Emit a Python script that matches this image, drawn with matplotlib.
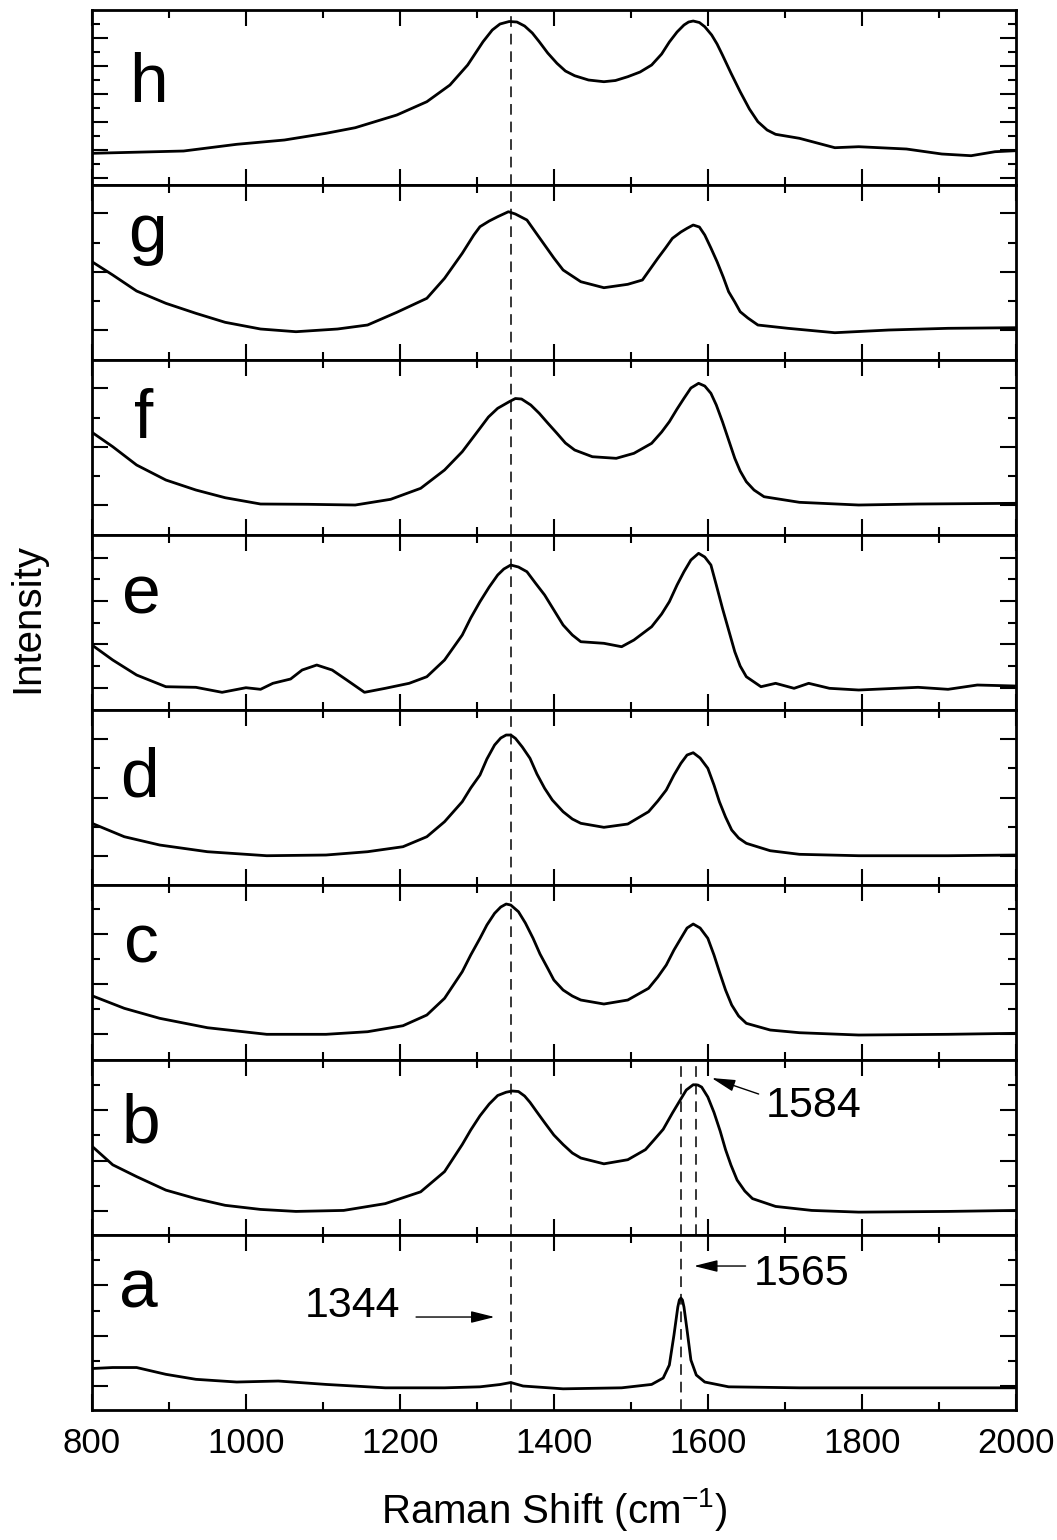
import matplotlib
matplotlib.use('Agg')
import matplotlib.pyplot as plt
from matplotlib.ticker import MultipleLocator, FixedLocator

plt.rcParams['font.family'] = ['Liberation Sans', 'DejaVu Sans']
plt.rcParams['mathtext.default'] = 'regular'

# spectra (intensity in arbitrary units, panel height = 175)
x_h = [800, 919, 988, 1050, 1104, 1142, 1196, 1235, 1265, 1288, 1308, 1320, 1330, 1342, 1352,
       1362, 1372, 1381, 1392, 1404, 1415, 1427, 1445, 1465, 1480, 1496, 1512, 1527, 1540, 1550,
       1560, 1569, 1575, 1581, 1589, 1596, 1605, 1612, 1619, 1630, 1642, 1654, 1665, 1677, 1688,
       1719, 1765, 1796, 1858, 1904, 1942, 1973, 2000]
y_h = [31.7, 34, 40.7, 45, 51.7, 57.3, 70, 83.3, 100, 120, 143.3, 155, 161, 163.5, 163,
       159, 152, 143.3, 132, 121.7, 114, 109.3, 105, 103.3, 104.5, 108.3, 113, 120, 131, 143,
       153, 160, 163, 164, 162.5, 158.3, 150, 141, 130, 112, 93.3, 76, 63.3, 55, 50.7,
       46.7, 37.3, 38.3, 36, 31, 29.3, 33.3, 34.3]

x_g = [800, 827, 858, 896, 935, 973, 1019, 1065, 1119, 1158, 1196, 1235, 1258, 1281, 1296,
       1304, 1316, 1327, 1341, 1350, 1365, 1376, 1388, 1400, 1412, 1435, 1465, 1496, 1515, 1535,
       1545, 1554, 1565, 1573, 1581, 1589, 1596, 1604, 1612, 1620, 1627, 1635, 1642, 1652, 1665,
       1704, 1765, 1835, 1912, 2000]
y_g = [98.3, 85, 69, 56.7, 46.7, 37.7, 31, 28.3, 31, 35, 47.7, 61.7, 81.7, 106.7, 125,
       133.3, 139, 143.3, 148.3, 146, 140, 128, 115, 102, 90, 78.3, 72.3, 75.7, 80, 101.7,
       112, 121.7, 128, 131.7, 135, 133, 125, 112, 98.3, 83, 68.3, 58, 48.3, 42, 35,
       31.7, 27.3, 30, 31.7, 32.3]

x_f = [800, 827, 858, 896, 935, 973, 1019, 1081, 1142, 1188, 1227, 1258, 1281, 1304, 1315,
       1327, 1342, 1350, 1358, 1370, 1381, 1392, 1404, 1415, 1427, 1450, 1481, 1504, 1527, 1540,
       1550, 1560, 1569, 1578, 1588, 1596, 1604, 1611, 1619, 1627, 1635, 1642, 1650, 1660, 1673,
       1719, 1796, 1873, 2000]
y_f = [102.7, 88.3, 70, 55, 45, 37.3, 31, 30.7, 30, 35.7, 46.7, 65, 83.3, 106.7, 118,
       126.7, 133.3, 136.5, 136, 130, 121.7, 112, 101.7, 92, 85, 78.3, 76.7, 81.7, 91.7, 103,
       113.3, 126, 136.7, 147, 151.7, 149, 141.7, 130, 113.3, 95, 76.7, 64, 53.3, 45, 38.3,
       32.7, 30, 31, 31.7]

x_e = [800, 827, 858, 896, 935, 969, 1000, 1019, 1035, 1058, 1073, 1092, 1112, 1131, 1154,
       1181, 1212, 1235, 1258, 1281, 1292, 1304, 1316, 1327, 1335, 1344, 1354, 1365, 1376, 1388,
       1400, 1412, 1424, 1435, 1465, 1488, 1504, 1527, 1540, 1550, 1560, 1569, 1578, 1588, 1596,
       1604, 1611, 1619, 1627, 1635, 1642, 1650, 1669, 1688, 1712, 1731, 1758, 1796, 1873, 1912,
       1950, 2000]
y_e = [65, 50, 35, 23.3, 22.7, 17.7, 22.3, 20.7, 26.7, 31, 40, 45, 40, 30, 17.7,
       21.7, 26.7, 33.3, 50, 75, 92, 108.3, 123, 135, 141, 145, 143, 138.3, 127, 115,
       100, 85, 75, 68.3, 66.7, 63.3, 70, 83.3, 96, 108.3, 125, 138.3, 150, 156.7, 153,
       145, 125, 101.7, 80, 58.3, 44, 33.3, 23.3, 26.7, 21.7, 26.7, 21.7, 20, 22.7, 20.7,
       25, 24]

x_d = [800, 842, 888, 950, 1027, 1104, 1158, 1204, 1235, 1258, 1281, 1292, 1304, 1313, 1323,
       1331, 1338, 1344, 1350, 1359, 1369, 1378, 1388, 1398, 1412, 1424, 1435, 1465, 1496, 1523,
       1535, 1546, 1556, 1565, 1573, 1581, 1590, 1600, 1608, 1615, 1623, 1631, 1640, 1650, 1681,
       1719, 1796, 1912, 2000]
y_d = [61.7, 48.3, 40, 33.3, 29.3, 30, 33.3, 38.3, 48.3, 63.3, 83.3, 97, 110, 126, 140,
       147, 150, 150, 146.7, 138, 126.7, 111, 96.7, 85, 73.3, 66, 61.7, 57.7, 61, 73.3,
       84, 95, 110, 121.7, 130, 132.3, 127, 116.7, 100, 83.3, 68, 55, 47, 41.7, 34.3,
       30.7, 29.3, 29.3, 30]

x_c = [800, 842, 888, 950, 1027, 1104, 1158, 1204, 1235, 1258, 1281, 1292, 1304, 1313, 1323,
       1331, 1338, 1344, 1354, 1363, 1373, 1382, 1392, 1400, 1412, 1424, 1435, 1465, 1496, 1523,
       1535, 1546, 1556, 1565, 1573, 1581, 1590, 1600, 1608, 1615, 1623, 1631, 1640, 1650, 1681,
       1719, 1796, 1912, 2000]
y_c = [64.3, 51.7, 41.7, 32.3, 25.7, 25.7, 28.3, 34.3, 45, 61.7, 88.3, 105, 121.7, 135, 146.7,
       153, 156, 155, 148.3, 137, 121.7, 106, 91.7, 80, 70, 64, 60, 56, 60, 71.7,
       83, 95, 110, 121.7, 132, 136, 132, 121.7, 105, 88.3, 70, 55, 44, 36.7, 30,
       27.3, 25, 25.7, 26.7]

x_b = [800, 827, 858, 896, 935, 973, 1019, 1065, 1127, 1181, 1227, 1258, 1281, 1292, 1304,
       1316, 1327, 1338, 1346, 1354, 1362, 1369, 1378, 1388, 1400, 1412, 1424, 1435, 1465, 1496,
       1519, 1530, 1542, 1554, 1565, 1572, 1581, 1587, 1592, 1600, 1608, 1616, 1623, 1630, 1638,
       1648, 1658, 1688, 1735, 1796, 1912, 2000]
y_b = [88.8, 70.2, 58.4, 44.9, 36.4, 29.7, 25.6, 23.6, 24.6, 31.4, 43.2, 63.4, 90.5, 105, 119.2,
       131, 139.5, 142.8, 144, 143.5, 139, 132.7, 123, 112.4, 100, 90.5, 82, 77, 71.2, 75.3,
       85.4, 95, 105.7, 122, 136.1, 145, 150.3, 150, 147.9, 138, 122.6, 104, 85.4, 70, 55,
       44, 36.4, 28.6, 24.6, 22.9, 23.6, 24.6]

x_a = [800, 827, 858, 896, 935, 988, 1042, 1104, 1181, 1258, 1304, 1330, 1344, 1360, 1412,
       1488, 1527, 1542, 1550, 1556, 1561, 1563, 1565, 1567, 1569, 1573, 1578, 1585, 1596, 1627,
       1719, 1873, 2000]
y_a = [41.5, 42.5, 42.5, 35.7, 30.7, 28, 29, 25.6, 22.2, 22.2, 23.2, 25.5, 27.5, 24, 21.2,
       22.2, 25.6, 32, 45, 75, 103, 110, 112, 110, 103, 80, 50, 35, 28, 23.2,
       22.2, 22.2, 22.2]

labels = ['h', 'g', 'f', 'e', 'd', 'c', 'b', 'a']
xs = [x_h, x_g, x_f, x_e, x_d, x_c, x_b, x_a]
ys = [y_h, y_g, y_f, y_e, y_d, y_c, y_b, y_a]

d_band = 1344
g_band_a = 1565
g_band_b = 1584

# layout of panel letters (axes fraction) and y ticks (major, minor)
letter_pos = [(0.040, 0.474), (0.039, 0.617), (0.045, 0.554), (0.033, 0.549),
              (0.031, 0.503), (0.035, 0.56), (0.032, 0.526), (0.029, 0.583)]
yticks = [([7, 35, 63, 91, 119, 147], [21, 49, 77, 105, 133, 161]),
          ([30, 88, 147], [59, 117]),
          ([30, 88, 147], [59, 117]),
          ([22, 66, 109, 152], [44, 87, 131]),
          ([29, 87, 146], [58, 117]),
          ([26, 76, 126], [51, 101, 151]),
          ([24, 74, 125], [49, 100, 150]),
          ([24, 74, 125], [49, 99, 150])]

fig = plt.figure(figsize=(10.57, 15.40), dpi=100)
axes = fig.subplots(8, 1, sharex=True, gridspec_kw=dict(hspace=0))
fig.subplots_adjust(left=0.087, right=0.961, top=0.9935, bottom=0.0844)

dash = (0, (7, 4.5))
for i, ax in enumerate(axes):
    ax.plot(xs[i], ys[i], color='black', lw=2.0)
    ax.axvline(d_band, color='black', lw=1.1, linestyle=dash)
    ax.set_xlim(800, 2000)
    ax.set_ylim(0, 175)
    ax.xaxis.set_major_locator(MultipleLocator(200))
    ax.xaxis.set_minor_locator(MultipleLocator(100))
    ax.yaxis.set_major_locator(FixedLocator(yticks[i][0]))
    ax.yaxis.set_minor_locator(FixedLocator(yticks[i][1]))
    ax.tick_params(which='both', direction='in', top=True, right=True, width=1.5,
                   labelleft=False, labelsize=25, pad=12)
    ax.tick_params(which='major', length=11.5)
    ax.tick_params(which='minor', length=6)
    for s in ax.spines.values():
        s.set_linewidth(2.0)
    ax.text(letter_pos[i][0], letter_pos[i][1], labels[i], transform=ax.transAxes,
            fontsize=50, ha='left', va='baseline')

ax_b = axes[6]
ax_a = axes[7]
ax_b.axvline(g_band_a, color='black', lw=1.1, linestyle=dash)
ax_b.axvline(g_band_b, color='black', lw=1.1, linestyle=dash)
ax_a.axvline(g_band_a, color='black', lw=1.1, linestyle=dash)

arrow = dict(arrowstyle='-|>,head_length=0.8,head_width=0.2', mutation_scale=18,
             color='black', lw=1.0, shrinkA=0, shrinkB=0)
ax_a.text(1139, 104, '1344', fontsize=31, ha='center', va='center')
ax_a.annotate('', xy=(1323, 93), xytext=(1221, 93), arrowprops=arrow)
ax_a.text(1722, 136, '1565', fontsize=31, ha='center', va='center')
ax_a.annotate('', xy=(1582, 144), xytext=(1649, 144), arrowprops=arrow)
ax_b.text(1738, 129, '1584', fontsize=31, ha='center', va='center')
ax_b.annotate('', xy=(1605, 157), xytext=(1666, 141), arrowprops=arrow)

ax_a.set_xlabel('Raman Shift (cm$^{-1}$)', fontsize=29, labelpad=19)
fig.text(8 / 1057, 1 - 618 / 1540, 'Intensity', fontsize=29, rotation=90,
         ha='left', va='center')

fig.savefig('out.png', dpi=100)
